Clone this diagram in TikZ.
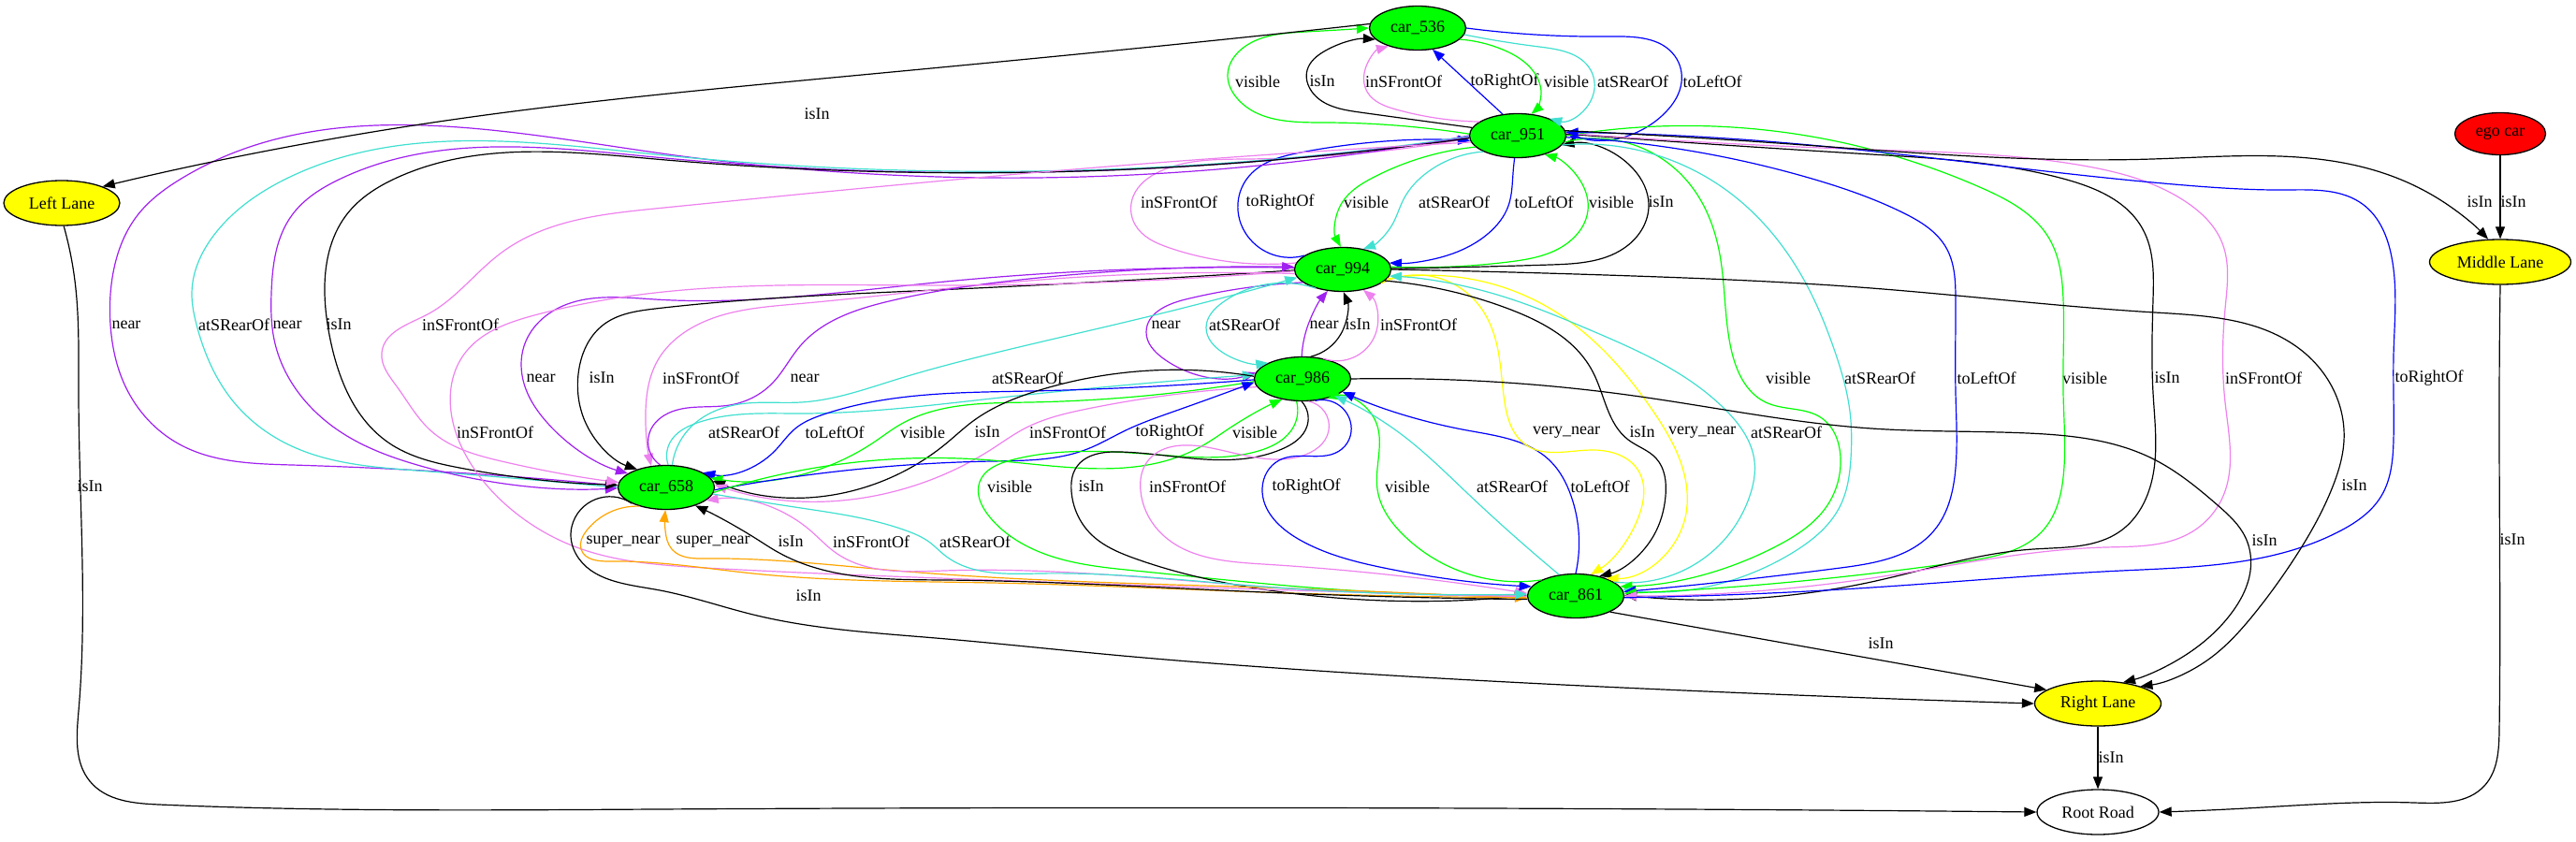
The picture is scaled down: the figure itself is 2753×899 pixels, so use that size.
\documentclass[tikz,border=0pt]{standalone}
\usepackage{fontspec}
\setmainfont{Liberation Serif}
\usetikzlibrary{arrows.meta,shapes.geometric,hobby}
\definecolor{gvgreen}{RGB}{0,255,0}
\definecolor{gvblue}{RGB}{0,0,255}
\definecolor{gvviolet}{RGB}{238,130,238}
\definecolor{gvturq}{RGB}{64,224,208}
\definecolor{gvpurple}{RGB}{160,32,240}
\definecolor{gvyellow}{RGB}{255,255,0}
\definecolor{gvorange}{RGB}{255,165,0}
\definecolor{gvred}{RGB}{255,0,0}
\begin{document}
\begin{tikzpicture}[x=1pt,y=-1pt,
  every node/.style={font=\fontsize{18}{21}\selectfont},
  gnode/.style={ellipse,draw=black,line width=1.3pt,inner sep=0pt,minimum width=103pt,minimum height=47pt},
  car/.style={gnode,fill=gvgreen},
  lane/.style={gnode,fill=gvyellow,minimum height=48pt},
  lab/.style={inner sep=0pt},
  edg/.style={line width=1.2pt,-{Triangle[length=13pt,width=10pt]}},
  hob/.style={edg,use Hobby shortcut}]
\fill[white] (0,0) rectangle (2753,899);
\useasboundingbox (0,0) rectangle (2753,899);
% nodes
\node[car] (A) at (1515,30) {car\_536};
\node[car] (B) at (1622,145) {car\_951};
\node[car] (C) at (1435,288) {car\_994};
\node[car] (D) at (1392,405) {car\_986};
\node[car] (E) at (712,521) {car\_658};
\node[car] (F) at (1684,637) {car\_861};
\node[lane,minimum width=124pt] (LL) at (66,217) {Left Lane};
\node[gnode,fill=gvred,minimum width=97pt,minimum height=45pt] (EG) at (2672,143) {ego car};
\node[lane,minimum width=151pt] (ML) at (2672,280) {Middle Lane};
\node[lane,minimum width=135pt] (RL) at (2242,752) {Right Lane};
\node[gnode,fill=white,minimum width=130pt,minimum height=48pt] (RR) at (2242,868) {Root Road};
% labels
\node[lab] (l1) at (1344,87) {visible};
\node[lab] (l2) at (1413,87) {isIn};
\node[lab] (l3) at (1500,87) {inSFrontOf};
\node[lab] (l4) at (1608,87) {toRightOf};
\node[lab] (l5) at (1674,87) {visible};
\node[lab] (l6) at (1745,87) {atSRearOf};
\node[lab] (l7) at (1830,87) {toLeftOf};
\node[lab] (l8) at (1260,216) {inSFrontOf};
\node[lab] (l9) at (1368,216) {toRightOf};
\node[lab] (l10) at (1460,216) {visible};
\node[lab] (l11) at (1554,216) {atSRearOf};
\node[lab] (l12) at (1650,216) {toLeftOf};
\node[lab] (l13) at (1722,216) {visible};
\node[lab] (l14) at (1775,216) {isIn};
\node[lab] (l15) at (135,347) {near};
\node[lab] (l16) at (250,347) {atSRearOf};
\node[lab] (l17) at (307,347) {near};
\node[lab] (l18) at (362,347) {isIn};
\node[lab] (l19) at (492,347) {inSFrontOf};
\node[lab] (l20) at (1246,347) {near};
\node[lab] (l21) at (1330,347) {atSRearOf};
\node[lab] (l22) at (1415,347) {near};
\node[lab] (l23) at (1451,347) {isIn};
\node[lab] (l24) at (1516,347) {inSFrontOf};
\node[lab] (l25) at (578,404) {near};
\node[lab] (l26) at (643,404) {isIn};
\node[lab] (l27) at (749,404) {inSFrontOf};
\node[lab] (l28) at (860,404) {near};
\node[lab] (l29) at (1098,404) {atSRearOf};
\node[lab] (l30) at (795,462) {atSRearOf};
\node[lab] (l31) at (892,462) {toLeftOf};
\node[lab] (l32) at (986,462) {visible};
\node[lab] (l33) at (1055,462) {isIn};
\node[lab] (l34) at (1141,462) {inSFrontOf};
\node[lab] (l35) at (1250,462) {toRightOf};
\node[lab] (l36) at (1341,462) {visible};
\node[lab] (l37) at (1079,520) {visible};
\node[lab] (l38) at (1166,520) {isIn};
\node[lab] (l39) at (1269,520) {inSFrontOf};
\node[lab] (l40) at (1396,520) {toRightOf};
\node[lab] (l41) at (1504,520) {visible};
\node[lab] (l42) at (1616,520) {atSRearOf};
\node[lab] (l43) at (1710,520) {toLeftOf};
\node[lab] (l44) at (1674,462) {very\_near};
\node[lab] (l45) at (1755,462) {isIn};
\node[lab] (l46) at (1819,462) {very\_near};
\node[lab] (l47) at (1909,462) {atSRearOf};
\node[lab] (l48) at (529,462) {inSFrontOf};
\node[lab] (l49) at (666,579) {super\_near};
\node[lab] (l50) at (762,579) {super\_near};
\node[lab] (l51) at (845,579) {isIn};
\node[lab] (l52) at (931,579) {inSFrontOf};
\node[lab] (l53) at (1042,579) {atSRearOf};
\node[lab] (l54) at (1911,404) {visible};
\node[lab] (l55) at (2009,404) {atSRearOf};
\node[lab] (l56) at (2123,404) {toLeftOf};
\node[lab] (l57) at (2228,404) {visible};
\node[lab] (l58) at (2316,404) {isIn};
\node[lab] (l59) at (2419,404) {inSFrontOf};
\node[lab] (l60) at (2596,404) {toRightOf};
\node[lab] (l61) at (873,122) {isIn};
\node[lab] (l62) at (96,520) {isIn};
\node[lab] (l63) at (2256,810) {isIn};
\node[lab] (l64) at (2685,577) {isIn};
\node[lab] (l65) at (2686,216) {isIn};
\node[lab] (l66) at (2650,216) {isIn};
\node[lab] (l67) at (2516,519) {isIn};
\node[lab] (l68) at (2420,578) {isIn};
\node[lab] (l69) at (2010,688) {isIn};
\node[lab] (l70) at (864,637) {isIn};
% car_951 <-> car_536
\draw[hob,gvgreen] (B.178) .. (1415,131) .. (1322,105) .. (1312,80) .. (1330,50) .. (1395,34) .. (A.180);
\draw[hob,black] (B.170) .. (1453,120) .. (1402,98) .. (1397,75) .. (1415,55) .. (A.195);
\draw[hob,gvviolet] (B.160) .. (1492,117) .. (1461,98) .. (1458,78) .. (A.212);
\draw[edg,gvblue] (B.125) -- (A.305);
\draw[hob,gvgreen] (A.-15) .. (1606,53) .. (1640,78) .. (1647,100) .. (B.58);
\draw[hob,gvturq] (A.-8) .. (1645,50) .. (1700,75) .. (1703,100) .. (B.28);
\draw[hob,gvblue] (A.0) .. (1721,39) .. (1790,60) .. (1797,88) .. (1780,120) .. (B.5);
% car_951 <-> car_994
\draw[hob,gvviolet] (C.172) .. (1250,265) .. (1213,240) .. (1211,210) .. (1240,183) .. (1333,170) .. (B.183);
\draw[hob,gvblue] (C.160) .. (1333,252) .. (1323,217) .. (1335,188) .. (1390,163) .. (B.186);
\draw[hob,gvgreen] (B.195) .. (1467,190) .. (1434,217) .. (C.95);
\draw[hob,gvturq] (B.205) .. (1527,183) .. (1500,213) .. (1488,240) .. (C.45);
\draw[hob,gvblue] (B.262) .. (1617,185) .. (1612,220) .. (1590,250) .. (1540,275) .. (C.8);
\draw[hob,gvgreen] (C.3) .. (1612,280) .. (1675,260) .. (1697,225) .. (1690,195) .. (B.-35);
\draw[hob,black] (C.1) .. (1657,283) .. (1740,262) .. (1762,220) .. (1745,180) .. (B.-12);
% car_951 -> car_658
\draw[hob,gvpurple] (B.180) .. (700,163) .. (192,192) .. (147,230) .. (120,297) .. (118,347) .. (134,413) .. (192,475) .. (312,497) .. (E.178);
\draw[hob,gvturq] (B.181) .. (700,165) .. (304,192) .. (232,247) .. (205,313) .. (210,347) .. (250,430) .. (312,477) .. (446,503) .. (E.180);
\draw[hob,gvpurple] (B.182) .. (700,168) .. (362,192) .. (312,230) .. (290,313) .. (293,363) .. (366,463) .. (446,497) .. (E.181);
\draw[hob,black] (B.183) .. (700,170) .. (424,190) .. (370,230) .. (347,313) .. (353,363) .. (415,473) .. (491,500) .. (E.177);
\draw[hob,gvviolet] (B.188) .. (1100,185) .. (700,223) .. (536,270) .. (455,337) .. (408,377) .. (424,413) .. (460,460) .. (536,493) .. (E.174);
% car_994 <-> car_986
\draw[hob,gvpurple] (C.198) .. (1267,320) .. (1225,355) .. (1243,383) .. (D.172);
\draw[hob,gvturq] (C.215) .. (1307,323) .. (1289,350) .. (1307,377) .. (D.155);
\draw[hob,gvpurple] (D.92) .. (1397,350) .. (C.235);
\draw[hob,black] (D.70) .. (1433,357) .. (C.272);
\draw[hob,gvviolet] (D.45) .. (1470,357) .. (C.-45);
% car_994 <-> car_658
\draw[hob,gvpurple] (C.178) .. (1000,302) .. (700,320) .. (590,333) .. (560,370) .. (560,410) .. (585,452) .. (E.160);
\draw[hob,black] (C.181) .. (1000,310) .. (700,330) .. (645,347) .. (618,400) .. (625,450) .. (E.148);
\draw[hob,gvviolet] (C.185) .. (1100,300) .. (850,325) .. (740,350) .. (703,385) .. (690,440) .. (E.125);
\draw[hob,gvpurple] (E.105) .. (694,463) .. (718,440) .. (780,433) .. (825,410) .. (855,370) .. (950,322) .. (1100,298) .. (C.177);
\draw[hob,gvturq] (E.75) .. (735,460) .. (790,432) .. (856,430) .. (960,405) .. (1060,378) .. (1233,337) .. (C.190);
% car_986 <-> car_658
\draw[hob,gvturq] (E.85) .. (716,473) .. (745,452) .. (856,442) .. (1060,426) .. (D.175);
\draw[hob,gvblue] (D.181) .. (1100,418) .. (880,443) .. (850,458) .. (828,482) .. (E.22);
\draw[hob,gvgreen] (D.183) .. (1100,430) .. (960,455) .. (935,472) .. (E.12);
\draw[hob,black] (D.177) .. (1111,417) .. (1040,450) .. (1010,475) .. (E.8);
\draw[hob,gvviolet] (D.190) .. (1162,437) .. (1095,458) .. (1060,480) .. (E.3);
\draw[hob,gvblue] (E.-3) .. (1060,493) .. (1162,480) .. (1203,460) .. (1254,440) .. (D.184);
\draw[hob,gvgreen] (E.-6) .. (1060,492) .. (1284,477) .. (1315,457) .. (D.225);
% car_986 <-> car_861
\draw[hob,gvgreen] (D.255) .. (1383,455) .. (1345,482) .. (1250,487) .. (1080,492) .. (1047,515) .. (1058,553) .. (1111,590) .. (1213,610) .. (1400,628) .. (F.180);
\draw[hob,black] (D.268) .. (1397,455) .. (1370,480) .. (1198,483) .. (1150,500) .. (1145,525) .. (1165,570) .. (1213,597) .. (1350,630) .. (F.179);
\draw[hob,gvviolet] (D.285) .. (1420,460) .. (1389,488) .. (1290,478) .. (1225,495) .. (1219,525) .. (1238,567) .. (1350,603) .. (F.177);
\draw[hob,gvblue] (D.300) .. (1443,450) .. (1434,480) .. (1367,492) .. (1349,522) .. (1389,577) .. (1479,607) .. (F.168);
\draw[hob,gvgreen] (F.155) .. (1501,573) .. (1472,523) .. (1470,450) .. (D.-38);
\draw[hob,gvturq] (F.128) .. (1568,527) .. (1496,463) .. (D.-28);
\draw[hob,gvblue] (F.90) .. (1679,530) .. (1657,493) .. (1568,460) .. (D.-18);
% car_994 <-> car_861
\draw[hob,gvyellow] (C.-20) .. (1577,322) .. (1600,370) .. (1608,430) .. (1630,475) .. (1700,481) .. (1752,505) .. (1752,550) .. (F.55);
\draw[hob,black] (C.-15) .. (1612,330) .. (1702,397) .. (1740,470) .. (1770,490) .. (1780,530) .. (1767,573) .. (F.40);
\draw[hob,gvyellow] (C.-12) .. (1657,330) .. (1767,440) .. (1800,507) .. (1800,557) .. (F.30);
\draw[hob,gvturq] (F.20) .. (1840,580) .. (1870,530) .. (1875,493) .. (1843,437) .. (1700,353) .. (1600,315) .. (C.-8);
\draw[hob,gvviolet] (C.182) .. (1000,305) .. (700,313) .. (571,337) .. (495,380) .. (482,440) .. (504,497) .. (560,555) .. (611,583) .. (754,607) .. (1060,620) .. (1350,630) .. (F.181);
% car_658 <-> car_861
\draw[hob,gvorange] (E.215) .. (627,567) .. (621,587) .. (652,600) .. (805,613) .. (1060,623) .. (1350,633) .. (F.182);
\draw[hob,gvorange] (F.183) .. (1350,628) .. (958,610) .. (754,597) .. (718,587) .. (711,567) .. (E.268);
\draw[hob,black] (F.184) .. (1350,633) .. (1009,620) .. (831,590) .. (810,577) .. (E.-32);
\draw[hob,gvviolet] (F.180) .. (1350,627) .. (1009,610) .. (892,590) .. (866,567) .. (E.-18);
\draw[hob,gvturq] (E.-8) .. (856,543) .. (968,567) .. (994,580) .. (1009,593) .. (1111,613) .. (1350,627) .. (F.178);
% car_951 <-> car_861
\draw[hob,gvgreen] (B.-8) .. (1800,190) .. (1837,267) .. (1850,373) .. (1887,430) .. (1947,447) .. (1967,490) .. (1953,540) .. (1900,583) .. (F.12);
\draw[hob,gvturq] (B.-12) .. (1850,207) .. (1930,303) .. (1960,373) .. (1977,440) .. (1978,490) .. (1967,540) .. (1917,590) .. (F.8);
\draw[hob,gvblue] (B.-2) .. (1933,190) .. (2033,227) .. (2080,265) .. (2090,320) .. (2090,420) .. (2090,500) .. (2067,567) .. (1967,607) .. (F.5);
\draw[hob,gvgreen] (B.0) .. (2118,201) .. (2190,255) .. (2205,320) .. (2205,420) .. (2205,510) .. (2185,565) .. (2100,600) .. (F.3);
\draw[hob,black] (B.2) .. (2000,165) .. (2205,191) .. (2290,245) .. (2301,320) .. (2301,420) .. (2298,520) .. (2267,567) .. (2173,587) .. (2000,622) .. (F.1);
\draw[hob,gvviolet] (B.3) .. (2000,160) .. (2226,177) .. (2335,215) .. (2375,260) .. (2378,330) .. (2378,430) .. (2376,530) .. (2340,570) .. (2250,585) .. (2000,618) .. (F.0);
\draw[hob,gvblue] (F.-2) .. (2000,628) .. (2267,610) .. (2500,568) .. (2545,530) .. (2558,470) .. (2558,380) .. (2556,275) .. (2526,219) .. (2444,203) .. (2335,198) .. (1900,152) .. (B.4);
% lanes
\draw[hob,black] (A.175) .. (1300,43) .. (900,82) .. (469,130) .. (LL.22);
\draw[hob,black] (LL.-85) .. (80,300) .. (84,420) .. (84,760) .. (96,835) .. (170,860) .. (700,865) .. (RR.180);
\draw[edg,black] (RL) -- (RR);
\draw[hob,black] (ML.-90) .. (2671,420) .. (2671,780) .. (2655,840) .. (2580,858) .. (2400,864) .. (RR.0);
\draw[edg,black] (EG) -- (ML);
\draw[hob,black] (B.6) .. (1900,153) .. (2300,170) .. (2550,186) .. (2610,215) .. (ML.118);
\draw[hob,black] (C.0) .. (1746,295) .. (2000,308) .. (2303,334) .. (2455,371) .. (2493,415) .. (2505,471) .. (2493,520) .. (2450,600) .. (2410,655) .. (2360,705) .. (RL.22);
\draw[hob,black] (D.0) .. (1746,423) .. (2000,458) .. (2167,463) .. (2300,490) .. (2370,540) .. (2400,575) .. (2405,610) .. (2385,655) .. (2336,700) .. (RL.40);
\draw[edg,black] (F.-25) -- (RL.165);
\draw[hob,black] (E.205) .. (611,563) .. (616,593) .. (700,630) .. (805,657) .. (1000,682) .. (1189,700) .. (1350,713) .. (1800,738) .. (RL.180);
\end{tikzpicture}
\end{document}
